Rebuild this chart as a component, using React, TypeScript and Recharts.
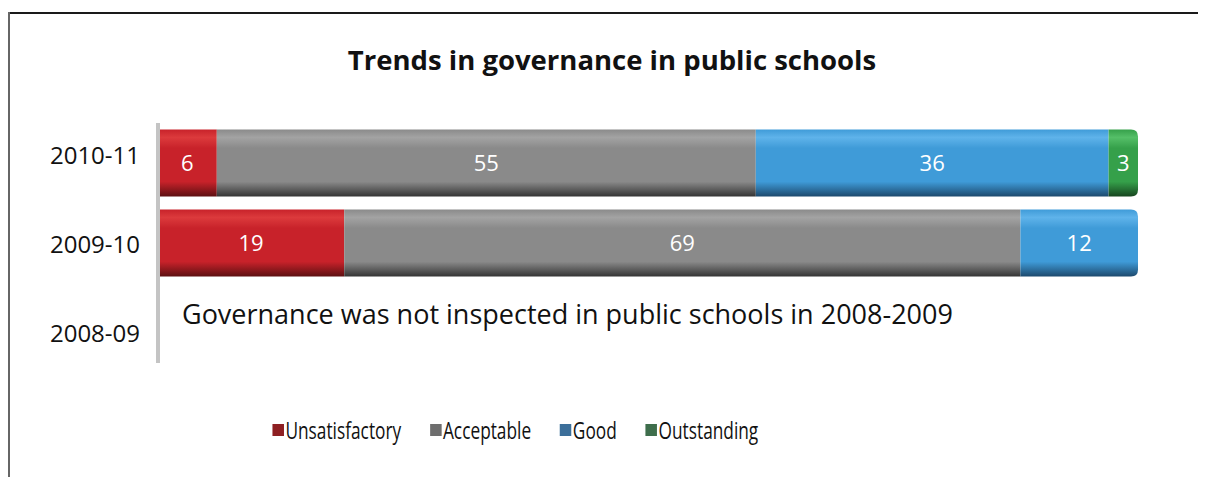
import React from "react";
import { Bar, BarChart, LabelList, XAxis, YAxis } from "recharts";

const years = ["2010-11", "2009-10", "2008-09"];
const unsatisfactory = [6, 19, null];
const acceptable = [55, 69, null];
const good = [36, 12, null];
const outstanding = [3, 0, null];

const series = [
  { key: "Unsatisfactory", values: unsatisfactory, top: "#dc3a3c", base: "#c8222a", dark: "#5e1012", icon: "#8e1f22" },
  { key: "Acceptable", values: acceptable, top: "#a3a3a3", base: "#8a8a8a", dark: "#353535", icon: "#6e6e6e" },
  { key: "Good", values: good, top: "#5fb3ea", base: "#3f9bd8", dark: "#1d4a6e", icon: "#3c6f9a" },
  { key: "Outstanding", values: outstanding, top: "#55bf68", base: "#35a04a", dark: "#17461f", icon: "#3e6e4c" },
];

const data = years.map((year, i) => {
  const row: Record<string, any> = { year };
  series.forEach((s) => (row[s.key] = s.values[i]));
  return row;
});

const FONT = "'Open Sans', 'Noto Sans', sans-serif";

function lastKey(row: Record<string, any>) {
  let last = "";
  series.forEach((s) => {
    if (row[s.key]) last = s.key;
  });
  return last;
}

function makeShape(key: string) {
  return (props: any) => {
    const { x, y, width, height, payload } = props;
    if (!width || width <= 0) return <g />;
    const r = lastKey(payload) === key ? 7 : 0;
    const d =
      r > 0
        ? `M${x},${y} H${x + width - r} Q${x + width},${y} ${x + width},${y + r} V${y + height - r} Q${x + width},${y + height} ${x + width - r},${y + height} H${x} Z`
        : `M${x},${y} H${x + width} V${y + height} H${x} Z`;
    return <path d={d} fill={`url(#grad-${key})`} />;
  };
}

// year labels in the original sit a little off the bar centres, spreading downwards
function YearTick(props: any) {
  const { x, y, payload, index } = props;
  return (
    <text
      x={x}
      y={y}
      dy={index * 9 - 7 + 8}
      textAnchor="end"
      fontSize={24}
      fontFamily={FONT}
      fill="#111"
    >
      {payload.value}
    </text>
  );
}

function ChartLegend() {
  return (
    <div style={{ position: "absolute", left: 0, width: 1014, top: 405, display: "flex", justifyContent: "center" }}>
      <div
        style={{
          display: "flex",
          gap: 40,
          fontFamily: FONT,
          fontSize: 24,
          color: "#111",
          transform: "scaleX(0.72)",
          transformOrigin: "center",
          whiteSpace: "nowrap",
        }}
      >
        {series.map((s) => (
          <div key={s.key} style={{ display: "flex", alignItems: "center" }}>
            <span style={{ width: 16, height: 12, background: s.icon, display: "inline-block", marginRight: 2 }} />
            {s.key}
          </div>
        ))}
      </div>
    </div>
  );
}

export default function App() {
  return (
    <div style={{ position: "relative", width: 1199, height: 469, background: "#fff", overflow: "hidden" }}>
      <div
        style={{
          position: "absolute",
          left: 0,
          width: 1208,
          top: 33,
          textAlign: "center",
          fontFamily: FONT,
          fontWeight: 700,
          fontSize: 27.5,
          color: "#111",
        }}
      >
        Trends in governance in public schools
      </div>
      <div style={{ position: "absolute", left: 0, top: 0 }}>
        <BarChart
          width={1198}
          height={460}
          data={data}
          layout="vertical"
          margin={{ top: 115, right: 68, bottom: 105, left: 0 }}
          barCategoryGap="8%"
        >
          <defs>
            {series.map((s) => (
              <linearGradient key={s.key} id={`grad-${s.key}`} x1="0" y1="0" x2="0" y2="1">
                <stop offset="0%" stopColor={s.base} />
                <stop offset="12%" stopColor={s.top} />
                <stop offset="28%" stopColor={s.base} />
                <stop offset="78%" stopColor={s.base} />
                <stop offset="100%" stopColor={s.dark} />
              </linearGradient>
            ))}
          </defs>
          <XAxis type="number" domain={[0, 100]} hide />
          <YAxis
            type="category"
            dataKey="year"
            width={150}
            axisLine={{ stroke: "#c4c4c4", strokeWidth: 4 }}
            tickLine={false}
            tickMargin={12}
            tick={<YearTick />}
          />
          {series.map((s) => (
            <Bar
              key={s.key}
              dataKey={s.key}
              stackId="a"
              isAnimationActive={false}
              fill={s.base}
              shape={makeShape(s.key)}
            >
              <LabelList
                dataKey={s.key}
                position="center"
                fill="#fff"
                fontSize={22}
                fontFamily={FONT}
                formatter={(v: any) => (v ? v : "")}
              />
            </Bar>
          ))}
        </BarChart>
      </div>
      <div
        style={{
          position: "absolute",
          left: 174,
          top: 287,
          fontFamily: FONT,
          fontSize: 27,
          color: "#111",
          whiteSpace: "nowrap",
        }}
      >
        Governance was not inspected in public schools in 2008-2009
      </div>
      <ChartLegend />
      {/* frame: top and left edges only, the rest is cut off in the original */}
      <div style={{ position: "absolute", left: 0, top: 4, width: 1210, height: 2, background: "#1a1a1a", zIndex: 5 }} />
      <div style={{ position: "absolute", left: 0, top: 4, width: 2, height: 480, background: "#666", zIndex: 5 }} />
    </div>
  );
}
